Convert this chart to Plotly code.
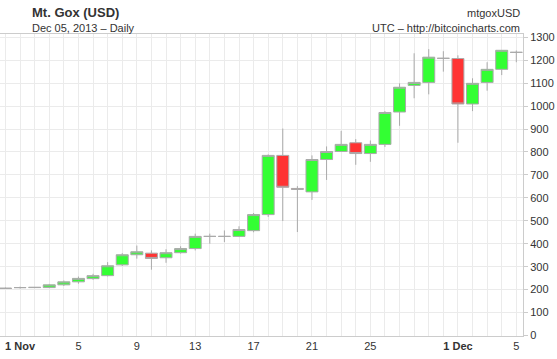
import plotly.graph_objects as go

dates = ["2013-10-31", "2013-11-01", "2013-11-02", "2013-11-03", "2013-11-04", "2013-11-05",
         "2013-11-06", "2013-11-07", "2013-11-08", "2013-11-09", "2013-11-10", "2013-11-11",
         "2013-11-12", "2013-11-13", "2013-11-14", "2013-11-15", "2013-11-16", "2013-11-17",
         "2013-11-18", "2013-11-19", "2013-11-20", "2013-11-21", "2013-11-22", "2013-11-23",
         "2013-11-24", "2013-11-25", "2013-11-26", "2013-11-27", "2013-11-28", "2013-11-29",
         "2013-11-30", "2013-12-01", "2013-12-02", "2013-12-03", "2013-12-04", "2013-12-05"]
opens = [207, 209, 209, 209, 221, 234, 248, 261, 308, 352, 359, 339, 361, 379, 432, 432, 432, 457,
         527, 785, 641, 626, 767, 802, 840, 793, 833, 974, 1090, 1103, 1208, 1207, 1009, 1103, 1160, 1234]
highs = [209, 213, 211, 225, 240, 257, 269, 320, 359, 392, 371, 376, 389, 444, 444, 458, 476, 534,
         789, 902, 651, 785, 824, 892, 856, 850, 978, 1099, 1230, 1248, 1239, 1221, 1121, 1191, 1244, 1242]
lows = [204, 205, 207, 207, 216, 226, 243, 258, 303, 335, 287, 317, 357, 371, 400, 407, 429, 450,
        517, 499, 451, 591, 678, 802, 744, 757, 822, 914, 1034, 1051, 1150, 840, 978, 1067, 1135, 1191]
closes = [205, 209, 210, 221, 234, 249, 261, 304, 352, 365, 336, 361, 379, 432, 432, 432, 462, 527,
          785, 646, 637, 767, 802, 833, 793, 833, 972, 1082, 1103, 1213, 1208, 1009, 1099, 1160, 1243, 1234]

tick_vals = ["2013-11-01", "2013-11-05", "2013-11-09", "2013-11-13", "2013-11-17",
             "2013-11-21", "2013-11-25", "2013-12-01", "2013-12-05"]
tick_text = ["<b>1 Nov</b>", "5", "9", "13", "17", "21", "25", "<b>1 Dec</b>", "5"]

GRID = "#ebebeb"
AXIS = "#cccccc"
TXT = "#333333"
FONT = "Liberation Sans, Arial, sans-serif"

fig = go.Figure(go.Candlestick(
    x=dates, open=opens, high=highs, low=lows, close=closes,
    increasing=dict(fillcolor="#33ff33", line=dict(color="#aaaaaa", width=1)),
    decreasing=dict(fillcolor="#ff3333", line=dict(color="#aaaaaa", width=1)),
    whiskerwidth=0,
))

W, H = 557, 359
ml, mr, mt, mb = 0, 34, 34, 23
pw, ph = W - ml - mr, H - mt - mb


def px(x):
    return (x - ml) / pw


def py(y):
    return (H - mb - y) / ph


fig.update_layout(
    width=W, height=H,
    margin=dict(l=ml, r=mr, t=mt, b=mb, pad=0),
    paper_bgcolor="white", plot_bgcolor="white",
    showlegend=False,
    boxgap=0.18, boxgroupgap=0,
    font=dict(family=FONT, size=11, color=TXT),
    xaxis=dict(
        type="date",
        range=["2013-10-30 15:00", "2013-12-05 11:00"],
        rangeslider=dict(visible=False),
        tickmode="array", tickvals=tick_vals, ticktext=tick_text,
        showgrid=True, gridcolor=GRID, gridwidth=1,
        minor=dict(dtick=86400000, tick0="2013-10-31", showgrid=True, gridcolor=GRID, gridwidth=1),
        showline=True, linecolor=AXIS, linewidth=1, mirror=True,
        ticks="", tickfont=dict(size=11, color=TXT),
        zeroline=False, fixedrange=True,
    ),
    yaxis=dict(
        side="right",
        range=[-2, 1314],
        tickmode="linear", tick0=0, dtick=100,
        showgrid=True, gridcolor=GRID, gridwidth=1,
        showline=True, linecolor=AXIS, linewidth=1,
        ticks="outside", ticklen=4, tickcolor=AXIS,
        tickfont=dict(size=11, color=TXT),
        zeroline=False, fixedrange=True,
    ),
    annotations=[
        dict(text="<b>Mt. Gox (USD)</b>", xref="paper", yref="paper", x=px(30), y=py(13),
             xanchor="left", yanchor="middle", showarrow=False, font=dict(size=13, color=TXT)),
        dict(text="Dec 05, 2013 \u2013 Daily", xref="paper", yref="paper", x=px(30), y=py(28),
             xanchor="left", yanchor="middle", showarrow=False, font=dict(size=11, color=TXT)),
        dict(text="mtgoxUSD", xref="paper", yref="paper", x=px(522), y=py(13),
             xanchor="right", yanchor="middle", showarrow=False, font=dict(size=11, color=TXT)),
        dict(text="UTC \u2013 http://bitcoincharts.com", xref="paper", yref="paper", x=px(522), y=py(28),
             xanchor="right", yanchor="middle", showarrow=False, font=dict(size=11, color=TXT)),
    ],
)

fig.write_html("out.html", config={"displayModeBar": False},
               post_script="document.body.style.margin='0';")
